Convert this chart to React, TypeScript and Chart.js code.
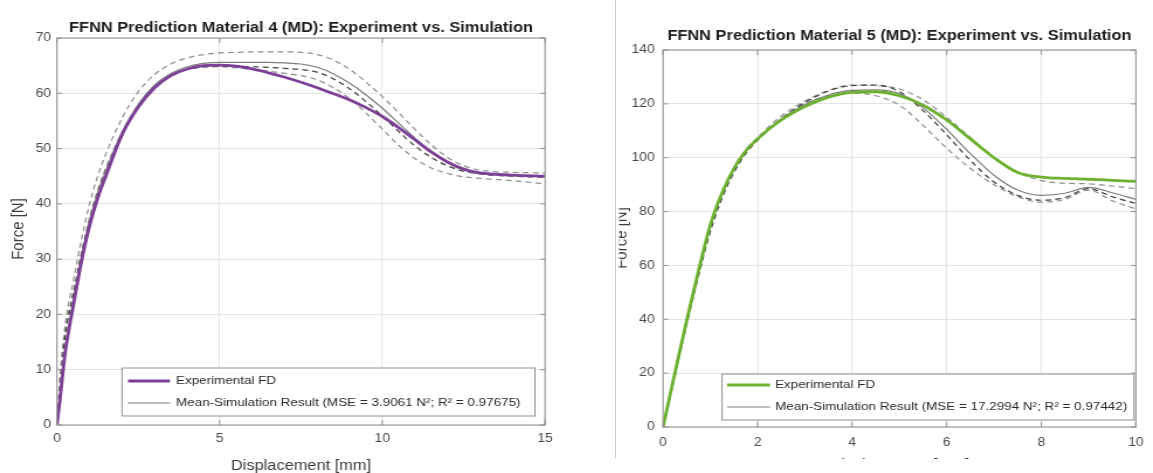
import React, { useEffect, useRef } from "react";
import { Chart, registerables } from "chart.js";

Chart.register(...registerables);

// ---------------- Material 4 (left) ----------------
const disp4 = [0, 0.1, 0.25, 0.5, 0.75, 1, 1.25, 1.5, 2, 2.5, 3, 3.5, 4, 4.5, 5, 5.5, 6, 6.5, 7, 7.5, 8, 8.5, 9, 9.5, 10, 10.5, 11, 11.5, 12, 12.5, 13, 14, 15];
const exp4 = [0, 5, 13, 21.5, 29.5, 36, 41, 45, 52.5, 57.5, 61, 63.2, 64.4, 65, 65.1, 64.9, 64.4, 63.7, 62.9, 62, 61, 59.9, 58.8, 57.4, 55.8, 53.8, 51.6, 49.4, 47.6, 46.3, 45.6, 45.2, 45.0];
const simMean4 = [0, 6, 14, 22.5, 30.5, 37, 42, 46, 53, 58, 61.5, 63.6, 64.8, 65.4, 65.6, 65.6, 65.6, 65.6, 65.5, 65.3, 64.7, 63.5, 61.8, 59.7, 57.3, 54.6, 51.9, 49.4, 47.4, 46.1, 45.5, 45.2, 45.1];
const simUpper4 = [0, 9, 18, 26, 33.5, 40, 45, 49, 55.5, 60.3, 63.4, 65.3, 66.4, 67, 67.3, 67.4, 67.5, 67.5, 67.5, 67.4, 67, 66, 64.3, 62, 59.4, 56.5, 53.5, 50.7, 48.4, 46.9, 46.1, 45.7, 45.6];
const simDark4 = [0, 7, 16, 23.5, 31, 37, 42, 46, 52.5, 57.5, 61, 63.2, 64.3, 64.8, 64.9, 64.9, 64.8, 64.7, 64.5, 64.3, 63.8, 62.6, 60.8, 58.5, 55.9, 53.1, 50.5, 48.4, 46.9, 45.9, 45.4, 45.0, 44.8];
const simLower4 = [0, 9, 17, 24, 31, 37.5, 42.5, 46.5, 53, 58, 61.3, 63.3, 64.3, 64.7, 64.8, 64.6, 64.3, 64, 63.6, 63.2, 62.4, 61, 59, 56.4, 53.5, 50.6, 48.2, 46.5, 45.5, 44.9, 44.6, 44.2, 43.6];
const xTicks4 = [0, 5, 10, 15];
const yTicks4 = [0, 10, 20, 30, 40, 50, 60, 70];
const title4 = "FFNN Prediction Material 4 (MD): Experiment vs. Simulation";
const legend4 = ["Experimental FD", "Mean-Simulation Result (MSE = 3.9061 N\u00B2; R\u00B2 = 0.97675)"];

// ---------------- Material 5 (right) ----------------
const disp5 = [0, 0.1, 0.25, 0.5, 0.75, 1, 1.25, 1.5, 1.75, 2, 2.5, 3, 3.5, 4, 4.5, 5, 5.5, 6, 6.5, 7, 7.5, 8, 8.5, 9, 9.5, 10];
const exp5 = [0, 8, 20, 39.5, 58, 75, 87, 96, 102.5, 107, 114, 119, 122.5, 124.3, 124.5, 123, 119.5, 114, 107, 100, 94.5, 92.8, 92.3, 92, 91.6, 91.2];
const simMean5 = [0, 7.5, 19.5, 39, 57.5, 74.5, 86.5, 96, 102.5, 107, 114.5, 119.8, 123.3, 125, 125.2, 123.8, 118.5, 110.5, 101.5, 93.5, 88, 86, 86.8, 89, 87, 84.5];
const simUpper5 = [0, 8, 20, 39.5, 58, 75, 87, 96.5, 103, 107.5, 115.5, 121, 125, 127, 126.8, 125.5, 121.5, 115, 107.5, 100, 94.5, 91.5, 90.5, 90.3, 89.5, 88.5];
const simDark5 = [0, 7, 19, 38, 56, 72.5, 85, 94.5, 101.5, 106.5, 114.5, 120.5, 124.8, 126.8, 127, 124.5, 117.5, 108.5, 99, 91, 86, 84.2, 85.2, 88.5, 85.5, 83];
const simLower5 = [0, 7.5, 19.5, 39, 57, 74, 86, 95.5, 102, 106.5, 114.5, 120, 123, 124, 123, 119.5, 112, 103.5, 96, 90, 85.5, 83.5, 84.5, 88, 84, 81];
const xTicks5 = [0, 2, 4, 6, 8, 10];
const yTicks5 = [0, 20, 40, 60, 80, 100, 120, 140];
const title5 = "FFNN Prediction Material 5 (MD): Experiment vs. Simulation";
const legend5 = ["Experimental FD", "Mean-Simulation Result (MSE = 17.2994 N\u00B2; R\u00B2 = 0.97442)"];

const xLabel = "Displacement [mm]";
const yLabel = "Force [N]";

const FONT = '"Liberation Sans", Arial, Helvetica, sans-serif';
const FRAME = "#8e8e8e";
const GRID = "#e4e4e4";
const STRETCH = 1.17;

type Box = { l: number; r: number; t: number; b: number };
type Spec = {
  cssLeft: number;
  cssWidth: number;
  height: number;
  plot: Box;
  xs: number[];
  exp: number[];
  mean: number[];
  upper: number[];
  dark: number[];
  lower: number[];
  xTicks: number[];
  yTicks: number[];
  expColor: string;
  title: string;
  titleY: number;
  xTitleBaseline: number;
  yTitleX: number;
  yTitleY: number;
  yClip: number | null;
  legend: string[];
  box: Box;
  rows: number[];
  lineL: number;
  lineR: number;
  textL: number;
  tickPadY: number;
  tickPadX: number;
};

function Panel({ spec }: { spec: Spec }) {
  const ref = useRef<HTMLCanvasElement>(null);
  const W = Math.round(spec.cssWidth / STRETCH);
  const sx = spec.cssWidth / W;
  const H = spec.height;

  useEffect(() => {
    const toX = (px: number) => (px - spec.cssLeft) / sx;
    const plotL = toX(spec.plot.l);
    const plotR = toX(spec.plot.r);
    const pts = (ys: number[]) => spec.xs.map((x, i) => ({ x, y: ys[i] }));

    const decor = {
      id: "decor",
      afterDraw(chart: any) {
        const ctx: CanvasRenderingContext2D = chart.ctx;
        const a = chart.chartArea;
        const xs = chart.scales.x;
        const ys = chart.scales.y;
        ctx.save();
        // frame
        ctx.strokeStyle = FRAME;
        ctx.lineWidth = 1;
        ctx.strokeRect(a.left, a.top, a.right - a.left, a.bottom - a.top);
        // inward ticks (MATLAB style)
        ctx.beginPath();
        spec.xTicks.forEach((v) => {
          const p = xs.getPixelForValue(v);
          ctx.moveTo(p, a.bottom);
          ctx.lineTo(p, a.bottom - 5);
          ctx.moveTo(p, a.top);
          ctx.lineTo(p, a.top + 5);
        });
        spec.yTicks.forEach((v) => {
          const p = ys.getPixelForValue(v);
          ctx.moveTo(a.left, p);
          ctx.lineTo(a.left + 5 / sx, p);
          ctx.moveTo(a.right, p);
          ctx.lineTo(a.right - 5 / sx, p);
        });
        ctx.stroke();

        // title
        ctx.fillStyle = "#1c1c1c";
        ctx.font = `bold 14px ${FONT}`;
        ctx.textAlign = "center";
        ctx.textBaseline = "middle";
        ctx.fillText(spec.title, (a.left + a.right) / 2, spec.titleY);

        // x title
        ctx.fillStyle = "#3c3c3c";
        ctx.font = `14px ${FONT}`;
        ctx.textBaseline = "alphabetic";
        ctx.fillText(xLabel, (a.left + a.right) / 2, spec.xTitleBaseline);

        // y title
        ctx.save();
        if (spec.yClip !== null) {
          ctx.beginPath();
          ctx.rect(toX(spec.yClip), 0, W, H);
          ctx.clip();
        }
        ctx.font = `15px ${FONT}`;
        ctx.translate(toX(spec.yTitleX), spec.yTitleY);
        ctx.rotate(-Math.PI / 2);
        ctx.textBaseline = "middle";
        ctx.fillText(yLabel, 0, 0);
        ctx.restore();

        // legend
        const bl = toX(spec.box.l);
        const br = toX(spec.box.r);
        ctx.fillStyle = "#ffffff";
        ctx.fillRect(bl, spec.box.t, br - bl, spec.box.b - spec.box.t);
        ctx.strokeStyle = FRAME;
        ctx.lineWidth = 1;
        ctx.strokeRect(bl, spec.box.t, br - bl, spec.box.b - spec.box.t);
        const samples = [
          { color: spec.expColor, width: 2.8 },
          { color: "#7c7c7c", width: 1.2 },
        ];
        ctx.font = `11.5px ${FONT}`;
        ctx.textAlign = "left";
        ctx.textBaseline = "middle";
        spec.legend.forEach((txt, i) => {
          const y = spec.rows[i];
          ctx.strokeStyle = samples[i].color;
          ctx.lineWidth = samples[i].width;
          ctx.beginPath();
          ctx.moveTo(toX(spec.lineL), y);
          ctx.lineTo(toX(spec.lineR), y);
          ctx.stroke();
          ctx.fillStyle = "#2a2a2a";
          ctx.fillText(txt, toX(spec.textL), y);
        });
        ctx.restore();
      },
    };

    const tickFont = { family: FONT, size: 12 };
    const dashed = (data: any, color: string) => ({
      data,
      borderColor: color,
      borderWidth: 1.2,
      borderDash: [5, 3.5],
      pointRadius: 0,
      fill: false,
      cubicInterpolationMode: "monotone" as const,
    });

    const chart = new Chart(ref.current as HTMLCanvasElement, {
      type: "line",
      data: {
        datasets: [
          {
            data: pts(spec.exp),
            borderColor: spec.expColor,
            borderWidth: 2.8,
            pointRadius: 0,
            fill: false,
            cubicInterpolationMode: "monotone",
          },
          {
            data: pts(spec.mean),
            borderColor: "#7c7c7c",
            borderWidth: 1.2,
            pointRadius: 0,
            fill: false,
            cubicInterpolationMode: "monotone",
          },
          dashed(pts(spec.dark), "#3e3e3e"),
          dashed(pts(spec.upper), "#8c8c8c"),
          dashed(pts(spec.lower), "#8c8c8c"),
        ],
      },
      options: {
        responsive: false,
        animation: false,
        devicePixelRatio: 1,
        parsing: false as any,
        layout: { padding: { left: 0, right: W - plotR, top: spec.plot.t, bottom: 0 } },
        plugins: { legend: { display: false }, tooltip: { enabled: false }, title: { display: false } },
        scales: {
          x: {
            type: "linear",
            min: spec.xTicks[0],
            max: spec.xTicks[spec.xTicks.length - 1],
            afterBuildTicks: (s: any) => {
              s.ticks = spec.xTicks.map((v) => ({ value: v }));
            },
            afterFit: (s: any) => {
              s.height = H - spec.plot.b;
            },
            grid: { color: GRID, drawTicks: false, lineWidth: 1 },
            border: { display: false },
            ticks: { font: tickFont, color: "#4a4a4a", padding: spec.tickPadX, maxRotation: 0, autoSkip: false },
          },
          y: {
            type: "linear",
            min: spec.yTicks[0],
            max: spec.yTicks[spec.yTicks.length - 1],
            afterBuildTicks: (s: any) => {
              s.ticks = spec.yTicks.map((v) => ({ value: v }));
            },
            afterFit: (s: any) => {
              s.width = plotL;
            },
            grid: { color: GRID, drawTicks: false, lineWidth: 1 },
            border: { display: false },
            ticks: { font: tickFont, color: "#4a4a4a", padding: spec.tickPadY, autoSkip: false },
          },
        },
      } as any,
      plugins: [decor],
    });
    return () => chart.destroy();
  }, []);

  return (
    <canvas
      ref={ref}
      width={W}
      height={H}
      style={{ position: "absolute", left: spec.cssLeft, top: 0, width: spec.cssWidth, height: H, display: "block" }}
    />
  );
}

const leftSpec: Spec = {
  cssLeft: 0,
  cssWidth: 580,
  height: 473,
  plot: { l: 57, r: 545, t: 38, b: 425 },
  xs: disp4,
  exp: exp4,
  mean: simMean4,
  upper: simUpper4,
  dark: simDark4,
  lower: simLower4,
  xTicks: xTicks4,
  yTicks: yTicks4,
  expColor: "#7d3f98",
  title: title4,
  titleY: 28,
  xTitleBaseline: 470,
  yTitleX: 18,
  yTitleY: 229,
  yClip: null,
  legend: legend4,
  box: { l: 122, r: 535, t: 368, b: 416 },
  rows: [381, 403],
  lineL: 128,
  lineR: 170,
  textL: 176,
  tickPadY: 5,
  tickPadX: 6,
};

const rightSpec: Spec = {
  cssLeft: 616,
  cssWidth: 537,
  height: 459,
  plot: { l: 663, r: 1144, t: 50, b: 427 },
  xs: disp5,
  exp: exp5,
  mean: simMean5,
  upper: simUpper5,
  dark: simDark5,
  lower: simLower5,
  xTicks: xTicks5,
  yTicks: yTicks5,
  expColor: "#6cb12f",
  title: title5,
  titleY: 36,
  xTitleBaseline: 469,
  yTitleX: 622,
  yTitleY: 238,
  yClip: 619,
  legend: legend5,
  box: { l: 722, r: 1134, t: 374, b: 420 },
  rows: [385, 407],
  lineL: 727,
  lineR: 770,
  textL: 775,
  tickPadY: 7,
  tickPadX: 8,
};

export default function App() {
  return (
    <div style={{ position: "absolute", left: 0, top: 0, width: 1153, height: 473, background: "#ffffff", overflow: "hidden" }}>
      <Panel spec={leftSpec} />
      <div style={{ position: "absolute", left: 615, top: 0, width: 1, height: 458, background: "#c9c9c9" }} />
      <Panel spec={rightSpec} />
    </div>
  );
}
